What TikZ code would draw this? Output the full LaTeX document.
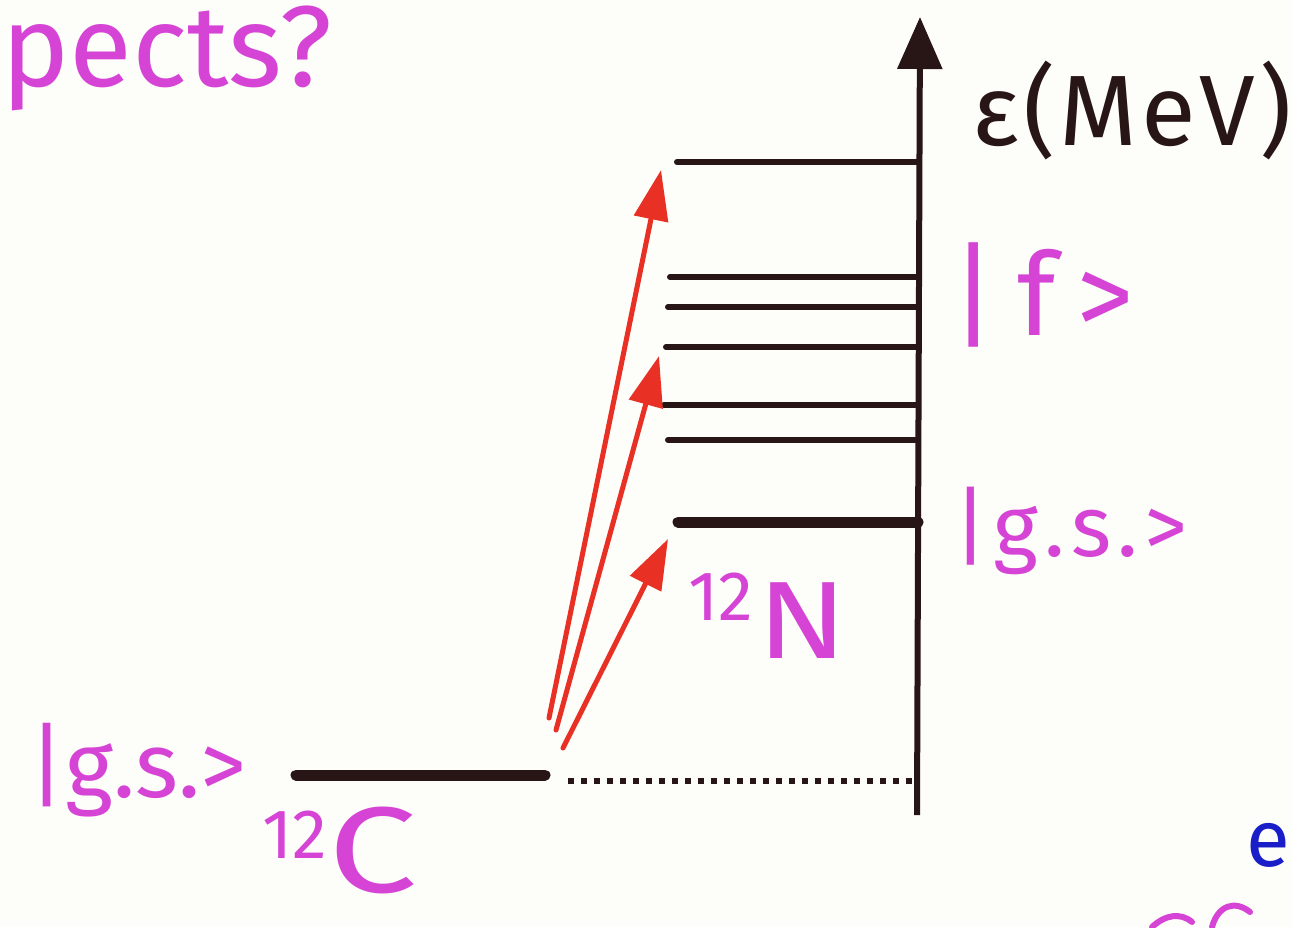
\documentclass[tikz,border=0pt]{standalone}
\usepackage{fontspec}
\usepackage{graphicx}
\setmainfont{Fira Sans}
\usetikzlibrary{arrows.meta}
\definecolor{ink}{RGB}{40,22,22}
\definecolor{pen}{RGB}{214,68,214}
\definecolor{redpen}{RGB}{232,48,36}
\definecolor{bluepen}{RGB}{25,30,200}
\definecolor{paper}{RGB}{253,253,249}
\begin{document}
\begin{tikzpicture}[x=1pt,y=-1pt,
  levelline/.style={ink, line width=6pt, line cap=round},
  gsline/.style={ink, line width=11pt, line cap=round},
  axisline/.style={ink, line width=6pt, -{Triangle[length=52pt,width=44pt]}},
  transition/.style={redpen, line width=5pt, line cap=round, -{Triangle[length=50pt,width=34pt]}},
  dotline/.style={ink, line width=6pt, dash pattern=on 6pt off 7pt},
  mag/.style={pen, inner sep=0pt},
  fs/.style={font=\fontsize{#1}{#1}\selectfont}]
\fill[paper] (0,0) rectangle (1292,927);
\useasboundingbox (0,0) rectangle (1292,927);

% energy axis
\coordinate (axbot) at (917,815);
\coordinate (axtop) at (920,17);
\draw[axisline] (axbot) -- (axtop);
\node[ink, inner sep=0pt, anchor=base west] (elabel) at (972,145) {\fontsize{100}{100}\selectfont\addfontfeature{LetterSpace=4}ε(MeV)};

% 12N levels
\draw[levelline] (677,162) -- (918,162);
\draw[levelline] (670,277) -- (918,277);
\draw[levelline] (668,307) -- (918,307);
\draw[levelline] (666,347) -- (918,347);
\draw[levelline] (664,405) -- (918,405);
\draw[levelline] (668,440) -- (918,440);
\draw[gsline] (678,522) -- (918,522);

% 12C ground state
\coordinate (cL) at (296,775);
\coordinate (cR) at (545,775);
\draw[gsline] (cL) -- (cR);
\coordinate (dotL) at (568,781);
\coordinate (dotR) at (912,781);
\draw[dotline] (dotL) -- (dotR);

% transitions
\coordinate (s1) at (549,718);
\coordinate (t1) at (661,170);
\coordinate (s2) at (556,730);
\coordinate (t2) at (659,356);
\coordinate (s3) at (563,748);
\coordinate (t3) at (668,539);
\draw[transition] (s1) -- (t1);
\draw[transition] (s2) -- (t2);
\draw[transition] (s3) -- (t3);

% labels
\node[mag, anchor=base west, fs=115] (pects) at (1,86) {pects?};
\node[mag, anchor=base west] (fket) at (950,335) {\fontsize{115}{115}\selectfont\addfontfeature{LetterSpace=18}|f>};
\node[mag, anchor=base west] (gsN) at (953,556) {\fontsize{86}{86}\selectfont\addfontfeature{LetterSpace=7}|g.s.>};
\node[mag, anchor=base west, fs=92] (gsC) at (28,797) {|g.s.>};
\node[mag, anchor=base west, fs=70] (n12) at (688,620) {12};
\node[mag, anchor=base west, fs=110] (nN) at (757,658) {\scalebox{1.2}[1]{N}};
\node[mag, anchor=base west, fs=70] (c12) at (262,858) {12};
\node[mag, anchor=base west, fs=122] (cC) at (328,892) {\scalebox{1.3}[1]{C}};
\node[bluepen, inner sep=0pt, anchor=base west, fs=80] (bluee) at (1246,866) {e};
\draw[pen, line width=6pt, line cap=round] (1152,927) .. controls (1165,915) and (1180,912) .. (1192,922)
  (1212,927) .. controls (1218,905) and (1235,900) .. (1250,912);
\end{tikzpicture}
\end{document}
